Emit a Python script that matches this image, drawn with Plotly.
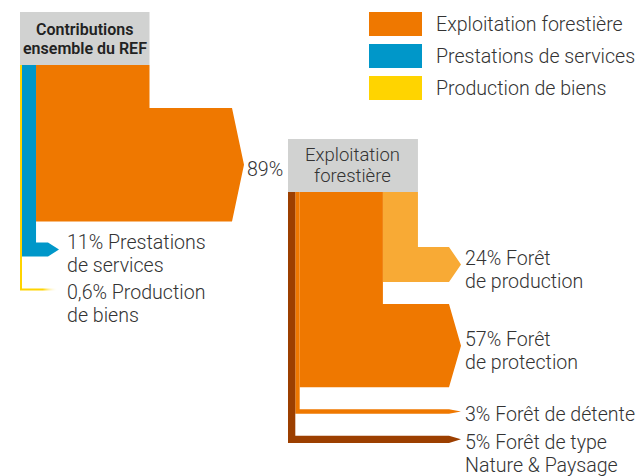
import plotly.graph_objects as go

# ---------------- data ----------------
REF_CATEGORIES = ["Exploitation forestière", "Prestations de services", "Production de biens"]
REF_SHARES = [89, 11, 0.6]
REF_LABELS = ["89%", "11% Prestations<br>de services", "0,6% Production<br>de biens"]
REF_COLORS = ["#EF7800", "#0097C9", "#FFD400"]

FOREST_SHARES = [24, 57, 3, 5]
FOREST_LABELS = ["24% Forêt<br>de production", "57% Forêt<br>de protection",
                 "3% Forêt de détente", "5% Forêt de type<br>Nature & Paysage"]
FOREST_COLORS = ["#F8AA35", "#EF7800", "#EF7800", "#9C3F00"]

HEADERS = ["Contributions<br>ensemble du REF", "Exploitation<br>forestière"]

# ---------------- layout constants ----------------
W, H = 639, 476
TXT = "#333333"
GRAY = "#D1D2D1"
FONT = "Roboto"
LABEL_SIZE = 19.6
LINE_H = 23
HEAD_H = 53

fig = go.Figure()
annotations = []
shapes = []


def add_block(shares, colors, labels, header, left, head_top, scale, band_top, gaps,
              band_ends, tips, label_x, min_w=2.0, gradient_last=False, header_bold=False):
    widths = [max(s * scale, min_w) for s in shares]
    total = sum(widths)
    hb = head_top + HEAD_H
    # header box
    shapes.append(dict(type="rect", xref="x", yref="y", x0=left, x1=left + total,
                       y0=head_top, y1=hb, fillcolor=GRAY, line=dict(width=0), layer="below"))
    hl = header.split("<br>")
    hsp = 19 if header_bold else 21
    for i, t in enumerate(hl):
        annotations.append(dict(
            x=left + total / 2, y=(head_top + hb) / 2 + (i - (len(hl) - 1) / 2) * hsp,
            text=t, showarrow=False, xanchor="center", yanchor="middle",
            font=dict(family=FONT, size=16 if header_bold else 18.5,
                      weight=600 if header_bold else 300,
                      color="#222222" if header_bold else TXT)))
    # columns (first band = rightmost column)
    x = left + total
    y = band_top
    for i, (w, c) in enumerate(zip(widths, colors)):
        cx0, cx1 = x - w, x
        x -= w
        top, bot = y, y + w
        y = bot + (gaps[i] if i < len(gaps) else 0)
        xe = band_ends[i]
        xt = xe + tips[i]
        mid = (top + bot) / 2
        xs = [cx0, cx1, cx1, xe, xt, xe, cx0, cx0]
        ys = [hb, hb, top, top, mid, bot, bot, hb]
        kw = dict(fillcolor=c)
        if gradient_last and i == len(widths) - 1:
            kw = dict(fillcolor=c, fillgradient=dict(type="horizontal",
                      colorscale=[[0, c], [0.6, c], [1, "rgba(255,255,255,0)"]]))
        fig.add_trace(go.Scatter(x=xs, y=ys, mode="lines", fill="toself",
                                 line=dict(width=0, color=c), hoverinfo="skip",
                                 showlegend=False, **kw))
        # label
        lines = labels[i].split("<br>")
        n = len(lines)
        lx = label_x[i]
        for j, t in enumerate(lines):
            if w >= 12:
                ly = mid + 5 + (j - (n - 1) / 2) * LINE_H
            else:
                ly = mid + 3 + j * LINE_H
            annotations.append(dict(x=lx, y=ly, text=t, showarrow=False, xanchor="left",
                                    yanchor="middle",
                                    font=dict(family=FONT, size=LABEL_SIZE, weight=300, color=TXT)))


# left block: REF contributions
add_block(REF_SHARES, REF_COLORS, REF_LABELS, HEADERS[0], left=20, head_top=12, scale=1.275,
          band_top=108, gaps=[21, 32], band_ends=[232, 48, 58], tips=[12, 11, 0],
          label_x=[245, 65, 65], gradient_last=True, header_bold=True)

# right block: exploitation forestière
add_block(FOREST_SHARES, FOREST_COLORS, FOREST_LABELS, HEADERS[1], left=288, head_top=139, scale=1.46,
          band_top=247, gaps=[22, 22, 22], band_ends=[449] * 4, tips=[12] * 4,
          label_x=[463] * 4)

# legend
for i, (name, c) in enumerate(zip(REF_CATEGORIES, REF_COLORS)):
    shapes.append(dict(type="rect", xref="x", yref="y", x0=369, x1=422, y0=12 + 32 * i,
                       y1=36 + 32 * i, fillcolor=c, line=dict(width=0)))
    annotations.append(dict(x=434, y=24 + 32 * i, text=name, showarrow=False, xanchor="left",
                            yanchor="middle",
                            font=dict(family=FONT, size=LABEL_SIZE, weight=300, color=TXT)))

fig.update_layout(
    width=W, height=H, autosize=False,
    margin=dict(l=0, r=0, t=0, b=0),
    paper_bgcolor="white", plot_bgcolor="white",
    xaxis=dict(range=[0, W], visible=False, fixedrange=True),
    yaxis=dict(range=[H, 0], visible=False, fixedrange=True),
    shapes=shapes, annotations=annotations, showlegend=False,
)

fig.write_html("out.html", config={"displayModeBar": False},
               post_script="document.body.style.margin='0';document.body.style.overflow='hidden';")
